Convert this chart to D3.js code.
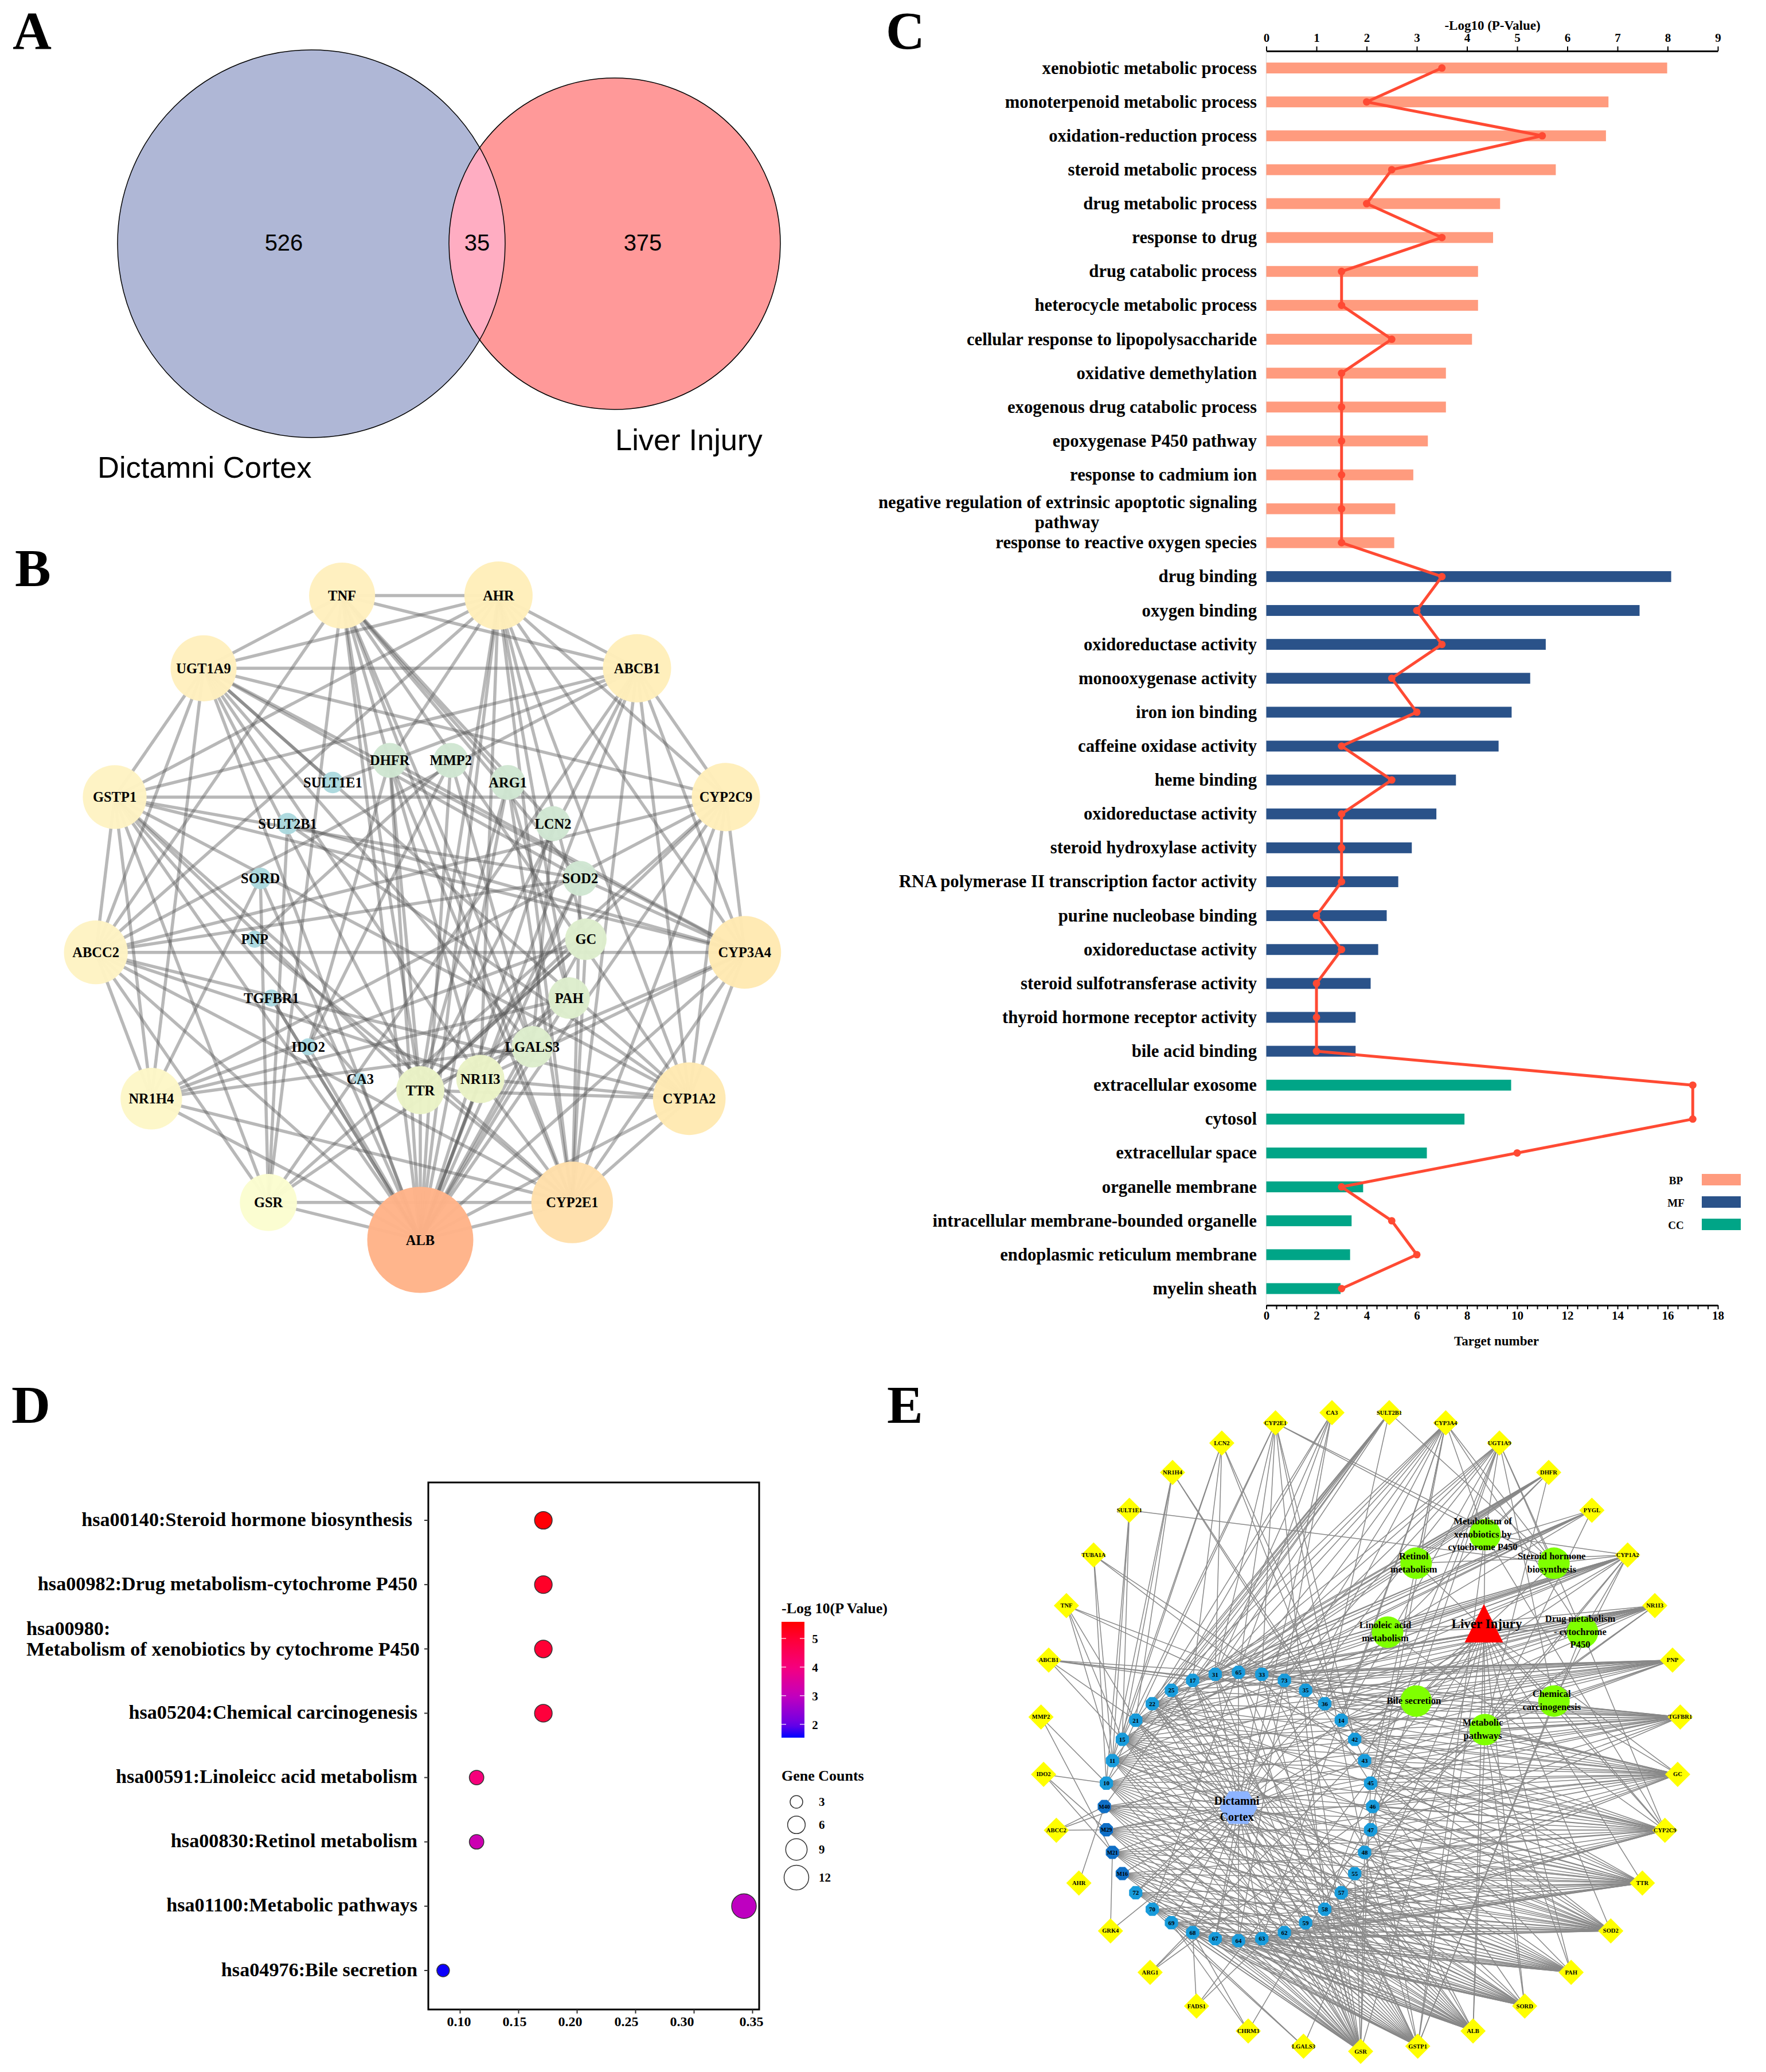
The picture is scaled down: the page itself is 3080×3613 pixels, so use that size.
<!DOCTYPE html>
<html><head><meta charset="utf-8">
<script src="https://cdn.jsdelivr.net/npm/d3@7/dist/d3.min.js"></script>
<style>
html,body{margin:0;padding:0;background:#fff}
svg{display:block}
text{font-family:"Liberation Serif","Times New Roman",serif;font-weight:700;fill:#000}
.sans{font-family:"Liberation Sans",Arial,sans-serif;font-weight:400}
</style></head><body>
<svg id="fig" width="3080" height="3613" viewBox="0 0 3080 3613"></svg>
<script>
// ---------- Panel A ----------
const vennSets = ["Dictamni Cortex", "Liver Injury"];
const vennCounts = [526, 35, 375];

// ---------- Panel B ----------
const ppiOuter = ["ALB","GSR","NR1H4","ABCC2","GSTP1","UGT1A9","TNF","AHR","ABCB1","CYP2C9","CYP3A4","CYP1A2","CYP2E1"];
const ppiOuterDegree = [22,11,12,12.5,12.5,13,13,13.5,13.5,13.5,14.5,14.5,16.5];
const ppiInner = ["TTR","CA3","IDO2","TGFBR1","PNP","SORD","SULT2B1","SULT1E1","DHFR","MMP2","ARG1","LCN2","SOD2","GC","PAH","LGALS3","NR1I3"];
const ppiInnerDegree = [9,1,2,2,2,3,3,3,6,6,6,6,6,7.5,7.5,7.5,9];
const ppiEdges = `TNF-AHR TNF-ABCB1 TNF-UGT1A9 TNF-ALB TNF-TTR TNF-GSR TNF-CYP2E1 TNF-NR1I3 TNF-LGALS3 TNF-SOD2 TNF-CYP1A2 TNF-ABCC2
AHR-UGT1A9 AHR-GSTP1 AHR-ABCB1 AHR-CYP2C9 AHR-CYP3A4 AHR-CYP1A2 AHR-CYP2E1 AHR-ALB AHR-TTR AHR-NR1I3 AHR-DHFR AHR-PAH AHR-GC AHR-ABCC2
UGT1A9-ABCB1 UGT1A9-CYP2C9 UGT1A9-GSTP1 UGT1A9-ABCC2 UGT1A9-NR1H4 UGT1A9-TTR UGT1A9-ALB UGT1A9-CYP3A4 UGT1A9-NR1I3 UGT1A9-LGALS3 UGT1A9-SOD2
ABCB1-GSTP1 ABCB1-ABCC2 ABCB1-CYP2C9 ABCB1-CYP3A4 ABCB1-CYP1A2 ABCB1-CYP2E1 ABCB1-ALB ABCB1-GSR ABCB1-SULT1E1
GSTP1-CYP2C9 GSTP1-ABCC2 GSTP1-NR1H4 GSTP1-GSR GSTP1-ALB GSTP1-CYP3A4 GSTP1-TTR GSTP1-CYP2E1 GSTP1-SOD2 GSTP1-CYP1A2 GSTP1-CA3
ABCC2-CYP3A4 ABCC2-CYP2C9 ABCC2-NR1H4 ABCC2-ALB ABCC2-CYP1A2 ABCC2-CYP2E1 ABCC2-SOD2 ABCC2-NR1I3 ABCC2-GSR
NR1H4-CYP2E1 NR1H4-ALB NR1H4-GC NR1H4-CYP2C9 NR1H4-SORD NR1H4-LGALS3
GSR-CYP2E1 GSR-ALB GSR-PAH GSR-CYP2C9 GSR-SORD GSR-SULT2B1
CYP2E1-ALB CYP1A2-ALB CYP1A2-CYP2E1 CYP3A4-CYP2E1 CYP3A4-CYP1A2 CYP3A4-CYP2C9 CYP2C9-CYP1A2 CYP2C9-CYP2E1 CYP2C9-ALB CYP2C9-TTR CYP3A4-ALB CYP3A4-TTR CYP3A4-NR1I3
CYP1A2-TTR CYP1A2-NR1I3 CYP1A2-SULT2B1 CYP2E1-DHFR CYP2E1-SOD2 CYP2E1-GC CYP2E1-ARG1 CYP3A4-SULT2B1 CYP3A4-DHFR CYP3A4-SOD2 ALB-TTR ALB-NR1I3 ALB-GC ALB-PAH ALB-LGALS3 ALB-ARG1 ALB-MMP2 ALB-IDO2 ALB-CA3 ALB-LCN2 ALB-DHFR ALB-TGFBR1 ALB-SORD ALB-SOD2
MMP2-IDO2 DHFR-TTR ARG1-TTR ARG1-PAH GC-TTR LCN2-LGALS3 SOD2-NR1I3 MMP2-LGALS3 TGFBR1-ALB PNP-CYP2E1`.split(/\s+/);
const ppiDarkEdges = `UGT1A9-CYP1A2 ABCB1-TTR NR1H4-PAH TNF-LCN2 TNF-ARG1 NR1I3-CYP2E1 DHFR-IDO2 MMP2-PNP GC-TTR PAH-NR1I3 ALB-NR1I3 UGT1A9-SULT1E1`.split(/\s+/);

// ---------- Panel C ----------
const goTerms = ["xenobiotic metabolic process","monoterpenoid metabolic process","oxidation-reduction process","steroid metabolic process","drug metabolic process","response to drug","drug catabolic process","heterocycle metabolic process","cellular response to lipopolysaccharide","oxidative demethylation","exogenous drug catabolic process","epoxygenase P450 pathway","response to cadmium ion","negative regulation of extrinsic apoptotic signaling|pathway","response to reactive oxygen species","drug binding","oxygen binding","oxidoreductase activity","monooxygenase activity","iron ion binding","caffeine oxidase activity","heme binding","oxidoreductase activity ","steroid hydroxylase activity","RNA polymerase II transcription factor activity","purine nucleobase binding","oxidoreductase activity  ","steroid sulfotransferase activity","thyroid hormone receptor activity","bile acid binding","extracellular exosome","cytosol","extracellular space","organelle membrane","intracellular membrane-bounded organelle","endoplasmic reticulum membrane","myelin sheath"];
const goGroup = ["BP","BP","BP","BP","BP","BP","BP","BP","BP","BP","BP","BP","BP","BP","BP","MF","MF","MF","MF","MF","MF","MF","MF","MF","MF","MF","MF","MF","MF","MF","CC","CC","CC","CC","CC","CC","CC"];
const goLogP = [7.99,6.82,6.77,5.77,4.66,4.52,4.22,4.22,4.10,3.58,3.58,3.22,2.93,2.57,2.55,8.07,7.44,5.57,5.26,4.89,4.63,3.78,3.39,2.90,2.63,2.40,2.23,2.08,1.78,1.78,4.88,3.95,3.20,1.93,1.70,1.67,1.48];
const goTargets = [7,4,11,5,4,7,3,3,5,3,3,3,3,3,3,7,6,7,5,6,3,5,3,3,3,2,3,2,2,2,17,17,10,3,5,6,3];
const goGroups = ["BP","MF","CC"];
const goTicksTop = [0,1,2,3,4,5,6,7,8,9];

// ---------- Panel D ----------
const keggTerms = ["hsa00140:Steroid hormone biosynthesis ","hsa00982:Drug metabolism-cytochrome P450","hsa00980:|Metabolism of xenobiotics by cytochrome P450","hsa05204:Chemical carcinogenesis","hsa00591:Linoleicc acid metabolism","hsa00830:Retinol metabolism","hsa01100:Metabolic pathways","hsa04976:Bile secretion"];
const keggRatio = [0.1714,0.1714,0.1714,0.1714,0.1143,0.1143,0.3429,0.0857];
const keggCount = [6,6,6,6,4,4,12,3];
const keggLogP = [5.55,5.15,5.0,4.9,4.05,3.2,2.95,1.6];
const keggRatioTicks = [0.10,0.15,0.20,0.25,0.30,0.35];
const keggRatioLabelShift = [-2,-7,-12,-16,-21,-2];
const keggColorTicks = [2,3,4,5];
const keggSizeTicks = [3,6,9,12];

// ---------- Panel E ----------
const netTargets = ["CA3","SULT2B1","CYP3A4","UGT1A9","DHFR","PYGL","CYP1A2","NR1I3","PNP","TGFBR1","GC","CYP2C9","TTR","SOD2","PAH","SORD","ALB","GSTP1","GSR","LGALS3","CHRM3","FADS1","ARG1","GRK4","AHR","ABCC2","IDO2","MMP2","ABCB1","TNF","TUBA1A","SULT1E1","NR1H4","LCN2","CYP2E1"];
const netCompounds = ["65","33","73","35","36","14","42","43","45","46","47","48","55","57","58","59","62","63","64","67","68","69","70","72","M16","M21","M29","M40","10","11","15","21","22","25","17","31"];
const netPathways = ["Metabolism of|xenobiotics by|cytochrome P450","Steroid hormone|biosynthesis","Drug metabolism|- cytochrome|P450","Chemical|carcinogenesis","Metabolic|pathways","Bile secretion","Linoleic acid|metabolism","Retinol|metabolism"];
const targetCompounds = {
 CA3:"22 25 31 67 64 70", SULT2B1:"21 22 25 17 31 36 11 10 M40", CYP3A4:"17 31 65 33 73 35 14 45 22 48 63", UGT1A9:"65 33 73 35 47 58 14 43 31",
 DHFR:"21 25 17 31 65 15 11 72", PYGL:"15 22 17 65 33 25 21", CYP1A2:"15 11 22 17 31 33 73 35 42 57 14 65 21",
 NR1I3:"10 15 21 22 25 17 31 33 73 35 36 46 14 42 65 11", PNP:"11 15 21 22 25 17 31 65 33 73 35 36 14 42 43 10",
 TGFBR1:"10 15 21 22 31 65 33 35 36 14 42 43 45 46 47 M40 11 25 48 M29", GC:"M40 M29 10 11 15 21 22 35 36 14 42 43 45 46 47 48 55 57 58 M21 33",
 CYP2C9:"M21 M29 M40 10 11 15 22 42 43 45 46 47 48 55 57 58 59 62 63 M16 21 14", TTR:"M16 72 70 M21 M29 M40 10 11 43 45 46 47 48 55 57 58 59 62 63 64 67 69 15 22 42 36",
 SOD2:"70 69 68 72 M16 M21 M29 M40 10 45 47 48 55 57 58 59 62 63 64 67 11 15 22 43 46 14", PAH:"68 67 64 63 62 59 70 69 72 M21 M29 48 55 57 58 M16 M40 10 15 43 47",
 SORD:"68 67 64 63 62 69 70 72 M16 M21 M40 10 11 15 45 48 59 57 58 M29 22", ALB:"68 67 64 63 62 59 69 70 72 M16 M21 M29 M40 10 11 15 21 22 47 55 58 25 33 17",
 GSTP1:"68 67 64 63 62 69 70 72 M16 M21 M29 M40 10 11 15 21 22 25 17 46 48 57 65 31", GSR:"68 67 64 63 62 59 69 70 72 M16 M21 M29 M40 10 11 15 21 22 25 17 31 65 33 73 35 48 55 58 45",
 LGALS3:"69 70", CHRM3:"69 68", FADS1:"68", ARG1:"68", GRK4:"M21", AHR:"M40", ABCC2:"M40 M29", IDO2:"M29 M21 10", MMP2:"10 M21",
 ABCB1:"17 21 15 33 35", TNF:"21 15 11 36 42", TUBA1A:"10 11 14 43", SULT1E1:"10 11 15", NR1H4:"11 15 21 36 45", LCN2:"17 31 15 36 43 11", CYP2E1:"10 65 33 42 48 58 15 31"
};
const pathwayTargets = [
 "UGT1A9 DHFR CYP1A2 CYP3A4 CYP2E1 CYP2C9 GSTP1","SULT1E1 CYP1A2 CYP3A4 SULT2B1 UGT1A9 CYP2E1","CYP1A2 CYP2C9 NR1I3 CYP3A4 UGT1A9 GSTP1","CYP1A2 CYP2C9 PNP GC UGT1A9 GSTP1",
 "ALB SORD PYGL DHFR CYP1A2 TGFBR1 GC PNP NR1I3 PAH ARG1 FADS1","ABCB1 ABCC2 PNP","CYP1A2 CYP2C9 NR1I3 PYGL","CYP1A2 PYGL DHFR CYP3A4"
];
const liverTargets = "TTR SOD2 PAH SORD ALB GSTP1 GSR CYP2C9 GC LGALS3 ARG1 FADS1 CHRM3 GRK4".split(" ");

// ---------- helpers ----------
const svg = d3.select("#fig");
svg.append("rect").attr("width",3080).attr("height",3613).attr("fill","#fff");
function ring(names, cx, cy, r, start){
  const ang = d3.scaleLinear().domain([0,names.length]).range([start,start+360]);
  const m = new Map();
  names.forEach((n,i)=>{const a=ang(i)*Math.PI/180; m.set(n,{x:cx+r*Math.sin(a),y:cy-r*Math.cos(a)});});
  return m;
}
const letters=[["A",22,85],["B",26,1022],["C",1545,85],["D",20,2481],["E",1547,2481]];
svg.selectAll(".ltr").data(letters).join("text").attr("class","ltr").attr("x",d=>d[1]).attr("y",d=>d[2]).attr("font-size",94).text(d=>d[0]);

// ---------- A: Venn ----------
{
  const g=svg.append("g");
  const cs=[{cx:543,cy:425,r:338,fill:"#AFB7D6"},{cx:1072,cy:425,r:289,fill:"#FF9999"}];
  const defs=svg.append("defs");
  defs.append("clipPath").attr("id","vclip").append("circle").attr("cx",cs[0].cx).attr("cy",cs[0].cy).attr("r",cs[0].r);
  g.selectAll("circle.s").data(cs).join("circle").attr("class","s").attr("cx",d=>d.cx).attr("cy",d=>d.cy).attr("r",d=>d.r).attr("fill",d=>d.fill);
  g.append("circle").attr("cx",cs[1].cx).attr("cy",cs[1].cy).attr("r",cs[1].r).attr("fill","#FFADC2").attr("clip-path","url(#vclip)");
  g.selectAll("circle.o").data(cs).join("circle").attr("class","o").attr("cx",d=>d.cx).attr("cy",d=>d.cy).attr("r",d=>d.r).attr("fill","none").attr("stroke","#000").attr("stroke-width",1.5);
  g.selectAll("text.n").data(vennCounts).join("text").attr("class","n sans").attr("x",(d,i)=>[495,832,1121][i]).attr("y",423).attr("text-anchor","middle").attr("dominant-baseline","central").attr("font-size",40).text(d=>d);
  g.selectAll("text.t").data(vennSets).join("text").attr("class","t sans").attr("x",(d,i)=>[170,1073][i]).attr("y",(d,i)=>[814,766][i]).attr("dominant-baseline","central").attr("font-size",52.5).text(d=>d);
}

// ---------- B: PPI ----------
{
  const g=svg.append("g");
  const outer=ring(ppiOuter,733,1592,570,180), inner=ring(ppiInner,733,1611,290,180);
  const pos=new Map([...outer,...inner]);
  const rScale=d3.scaleLinear().domain([1,22]).range([11,92.5]);
  const col=d3.scaleLinear().domain([1,3,6,9,11,13,15,17,22]).range(["#A9D8E2","#ABD9DE","#CFE6D2","#EAF3C6","#FBFDD0","#FFF0BE","#FFE6AE","#FFDCA8","#FFB388"]);
  const all=[...ppiEdges,...ppiDarkEdges].map(s=>s.split("-"));
  g.selectAll("line").data(all).join("line")
    .attr("x1",d=>pos.get(d[0]).x).attr("y1",d=>pos.get(d[0]).y).attr("x2",d=>pos.get(d[1]).x).attr("y2",d=>pos.get(d[1]).y)
    .attr("stroke","#555").attr("stroke-opacity",.42).attr("stroke-width",5.5);
  const nodes=[...ppiOuter.map((n,i)=>({n,d:ppiOuterDegree[i]})),...ppiInner.map((n,i)=>({n,d:ppiInnerDegree[i]}))];
  g.selectAll("circle").data(nodes).join("circle").attr("cx",d=>pos.get(d.n).x).attr("cy",d=>pos.get(d.n).y).attr("r",d=>rScale(d.d)).attr("fill",d=>col(d.d)).attr("fill-opacity",.97);
  g.selectAll("text").data(nodes).join("text").attr("x",d=>pos.get(d.n).x).attr("y",d=>pos.get(d.n).y).attr("text-anchor","middle").attr("dominant-baseline","central").attr("font-size",24.5).text(d=>d.n);
}

// ---------- C: GO ----------
{
  const g=svg.append("g");
  const xTop=d3.scaleLinear().domain([0,9]).range([2208.5,2996]);
  const xBot=d3.scaleLinear().domain([0,18]).range([2208.5,2996]);
  const y=d3.scaleBand().domain(goTerms).range([89,2276.5]).paddingInner(.68).paddingOuter(.34);
  const col=d3.scaleOrdinal().domain(goGroups).range(["#FF9B7E","#2A5289","#00A587"]);
  g.append("line").attr("x1",2208.5).attr("x2",2208.5).attr("y1",89).attr("y2",2276).attr("stroke","#ddd").attr("stroke-width",1.5);
  g.selectAll("rect.bar").data(goTerms).join("rect").attr("class","bar").attr("x",xTop(0)).attr("y",d=>y(d)).attr("height",y.bandwidth()).attr("width",(d,i)=>xTop(goLogP[i])-xTop(0)).attr("fill",(d,i)=>col(goGroup[i]));
  const line=d3.line().x((d,i)=>xBot(goTargets[i])).y(d=>y(d)+y.bandwidth()/2);
  g.append("path").attr("d",line(goTerms)).attr("fill","none").attr("stroke","#FF4A33").attr("stroke-width",5).attr("stroke-linejoin","round");
  g.selectAll("circle").data(goTerms).join("circle").attr("cx",(d,i)=>xBot(goTargets[i])).attr("cy",d=>y(d)+y.bandwidth()/2).attr("r",6.5).attr("fill","#FF4A33");
  goTerms.forEach((t,i)=>{
    const lines=t.trim().split("|"), cy=y(t)+y.bandwidth()/2;
    if(lines.length==1){
      g.append("text").attr("x",2192).attr("y",cy).attr("text-anchor","end").attr("dominant-baseline","central").attr("font-size",30.7).text(lines[0]);
    } else {
      g.append("text").attr("x",2192).attr("y",cy-11).attr("text-anchor","end").attr("dominant-baseline","central").attr("font-size",30.7).text(lines[0]);
      g.append("text").attr("x",1861).attr("y",cy+24).attr("text-anchor","middle").attr("dominant-baseline","central").attr("font-size",30.7).text(lines[1]);
    }
  });
  const top=g.append("g").attr("transform","translate(0,89)").call(d3.axisTop(xTop).tickValues(goTicksTop).tickSize(8).tickPadding(8).tickSizeOuter(0));
  const bot=g.append("g").attr("transform","translate(0,2276)").call(d3.axisBottom(xBot).tickValues(d3.range(0,46).map(i=>i*.4)).tickSize(7).tickSizeOuter(0).tickPadding(3).tickFormat((d,i)=>i%5==0?d3.format("d")(d):""));
  [top,bot].forEach(a=>{a.selectAll("path").attr("stroke","#000").attr("stroke-width",3);a.selectAll("line").attr("stroke","#000").attr("stroke-width",2);a.selectAll("text").attr("font-size",21).attr("font-family","Liberation Serif").attr("font-weight",700).attr("fill","#000");});
  g.append("text").attr("x",2603).attr("y",44).attr("text-anchor","middle").attr("dominant-baseline","central").attr("font-size",23).text("-Log10 (P-Value)");
  g.append("text").attr("x",2610).attr("y",2338).attr("text-anchor","middle").attr("dominant-baseline","central").attr("font-size",23).text("Target number");
  const ly=d3.scalePoint().domain(goGroups).range([2057,2135]);
  g.selectAll("rect.lg").data(goGroups).join("rect").attr("class","lg").attr("x",2968).attr("width",68).attr("y",d=>ly(d)-10).attr("height",20).attr("fill",d=>col(d));
  g.selectAll("text.lg").data(goGroups).join("text").attr("class","lg").attr("x",2923).attr("y",d=>ly(d)+1).attr("text-anchor","middle").attr("dominant-baseline","central").attr("font-size",19).text(d=>d);
}

// ---------- D: KEGG ----------
{
  const g=svg.append("g");
  const x=d3.scaleLinear().domain([0.10,0.35]).range([802,1312]);
  const y=d3.scalePoint().domain(keggTerms).range([2651,3436]);
  const col=d3.scaleLinear().domain([1.55,2,3,4,5,5.6]).range(["#0000FF","#6A00E6","#C200BE","#F5007F","#FF0035","#FF0000"]);
  const r=d3.scaleSqrt().domain([3,12]).range([11,21.5]);
  g.append("rect").attr("x",747).attr("y",2585).attr("width",577).attr("height",919).attr("fill","none").attr("stroke","#000").attr("stroke-width",3);
  const ax=g.append("g").attr("transform","translate(0,3504)").call(d3.axisBottom(x).tickValues(keggRatioTicks).tickSize(7).tickPadding(5).tickFormat(d3.format(".2f")));
  ax.select("path").remove();
  ax.selectAll("line").attr("stroke","#333").attr("stroke-width",2);
  ax.selectAll("text").attr("font-size",24).attr("font-family","Liberation Serif").attr("font-weight",700).attr("fill","#444").attr("dx",(d,i)=>keggRatioLabelShift[i]);
  g.selectAll("line.yt").data(keggTerms).join("line").attr("class","yt").attr("x1",740).attr("x2",747).attr("y1",d=>y(d)).attr("y2",d=>y(d)).attr("stroke","#333").attr("stroke-width",2);
  g.selectAll("circle.pt").data(keggTerms).join("circle").attr("class","pt").attr("cx",(d,i)=>x(keggRatio[i])).attr("cy",d=>y(d)).attr("r",(d,i)=>r(keggCount[i])).attr("fill",(d,i)=>col(keggLogP[i])).attr("stroke","#333").attr("stroke-width",1.5);
  keggTerms.forEach(t=>{
    const parts=t.split("|");
    if(parts.length==1){
      g.append("text").attr("x",t.endsWith(" ")?719:728).attr("y",y(t)-2).attr("text-anchor","end").attr("dominant-baseline","central").attr("font-size",34.2).text(t.trim());
    } else {
      g.append("text").attr("x",46).attr("y",y(t)-36).attr("dominant-baseline","central").attr("font-size",34.2).text(parts[0]);
      g.append("text").attr("x",46).attr("y",y(t)).attr("dominant-baseline","central").attr("font-size",34.2).text(parts[1]);
    }
  });
  g.append("text").attr("x",1363).attr("y",2804).attr("dominant-baseline","central").attr("font-size",26).text("-Log 10(P Value)");
  const cl=d3.scaleLinear().domain([5,2]).range([2857,3006.7]);
  const grad=svg.append("defs").append("linearGradient").attr("id","kgrad").attr("x1",0).attr("x2",0).attr("y1",0).attr("y2",1);
  d3.range(0,21).forEach(i=>grad.append("stop").attr("offset",i/20).attr("stop-color",col(5.6-(5.6-1.55)*i/20)));
  g.append("rect").attr("x",1363).attr("y",2828).attr("width",40).attr("height",202).attr("fill","url(#kgrad)");
  keggColorTicks.forEach(v=>{
    g.append("line").attr("x1",1363).attr("x2",1371).attr("y1",cl(v)).attr("y2",cl(v)).attr("stroke","#fff").attr("stroke-opacity",.8).attr("stroke-width",1.5);
    g.append("line").attr("x1",1395).attr("x2",1403).attr("y1",cl(v)).attr("y2",cl(v)).attr("stroke","#fff").attr("stroke-opacity",.8).attr("stroke-width",1.5);
    g.append("text").attr("x",1421.5).attr("y",cl(v)+1).attr("text-anchor","middle").attr("dominant-baseline","central").attr("font-size",21).text(v);
  });
  g.append("text").attr("x",1363).attr("y",3096).attr("dominant-baseline","central").attr("font-size",26).text("Gene Counts");
  const sy=d3.scaleOrdinal().domain(keggSizeTicks).range([3142,3182,3225,3274]);
  g.selectAll("circle.sz").data(keggSizeTicks).join("circle").attr("class","sz").attr("cx",1389).attr("cy",d=>sy(d)).attr("r",d=>r(d)).attr("fill","#fff").attr("stroke","#333").attr("stroke-width",1.5);
  g.selectAll("text.sz").data(keggSizeTicks).join("text").attr("class","sz").attr("x",1428).attr("y",d=>sy(d)).attr("dominant-baseline","central").attr("font-size",21).text(d=>d);
}

// ---------- E: network ----------
{
  const g=svg.append("g");
  const tPos=ring(netTargets,2373,3019,558,-360/70);
  const cPos=ring(netCompounds,2160,3150,234,0);
  const pPos=ring(netPathways,2590,2846,170,0);
  const hub={x:2160,y:3152}, liver={x:2588,y:2840};
  const edges=[];
  netCompounds.forEach(c=>edges.push([cPos.get(c),hub]));
  Object.entries(targetCompounds).forEach(([t,list])=>list.split(" ").forEach(c=>edges.push([tPos.get(t),cPos.get(c)])));
  pathwayTargets.forEach((list,i)=>{
    const p=pPos.get(netPathways[i]);
    edges.push([p,liver]);
    list.split(" ").forEach(t=>edges.push([p,tPos.get(t)]));
  });
  liverTargets.forEach(t=>edges.push([liver,tPos.get(t)]));
  g.selectAll("line").data(edges).join("line").attr("x1",d=>d[0].x).attr("y1",d=>d[0].y).attr("x2",d=>d[1].x).attr("y2",d=>d[1].y).attr("stroke","#888").attr("stroke-width",1.5);
  // targets
  const diamond=d3.symbol().type(d3.symbolSquare).size(2*22*22);
  g.selectAll("path.t").data(netTargets).join("path").attr("class","t").attr("d",diamond).attr("transform",d=>`translate(${tPos.get(d).x},${tPos.get(d).y}) rotate(45)`).attr("fill","#FFFF00");
  g.selectAll("text.t").data(netTargets).join("text").attr("class","t").attr("x",d=>tPos.get(d).x).attr("y",d=>tPos.get(d).y).attr("text-anchor","middle").attr("dominant-baseline","central").attr("font-size",10.5).text(d=>d);
  // compounds: octagons
  const polygon=(n,r,rot)=>d3.range(n).map(i=>{const a=rot+i*2*Math.PI/n;return [r*Math.cos(a),r*Math.sin(a)];}).join(" ");
  const isM=d=>d[0]=="M";
  g.selectAll("polygon.c").data(netCompounds).join("polygon").attr("class","c").attr("points",polygon(8,12.5,Math.PI/8)).attr("transform",d=>`translate(${cPos.get(d).x},${cPos.get(d).y})`).attr("fill",d=>isM(d)?"#0F6FC6":"#189BDB");
  g.selectAll("text.c").data(netCompounds).join("text").attr("class","c").attr("x",d=>cPos.get(d).x).attr("y",d=>cPos.get(d).y).attr("text-anchor","middle").attr("dominant-baseline","central").attr("font-size",d=>isM(d)?10:11).text(d=>d);
  // hub
  g.append("polygon").attr("points",polygon(6,33,0)).attr("transform",`translate(${hub.x},${hub.y})`).attr("fill","#8DB4FF");
  g.append("text").attr("x",2157).attr("y",3140).attr("text-anchor","middle").attr("dominant-baseline","central").attr("font-size",20).text("Dictamni");
  g.append("text").attr("x",2157).attr("y",3168).attr("text-anchor","middle").attr("dominant-baseline","central").attr("font-size",20).text("Cortex");
  // pathways
  g.selectAll("circle.p").data(netPathways).join("circle").attr("class","p").attr("cx",d=>pPos.get(d).x).attr("cy",d=>pPos.get(d).y).attr("r",27.5).attr("fill","#7FFF00");
  netPathways.forEach(d=>{
    const ls=d.split("|"), p=pPos.get(d);
    ls.forEach((s,i)=>g.append("text").attr("x",p.x-4).attr("y",p.y+(i-(ls.length-1)/2)*22.6-1).attr("text-anchor","middle").attr("dominant-baseline","central").attr("font-size",16.5).text(s));
  });
  // liver
  g.append("polygon").attr("points",[[0,-43],[33.5,24],[-33.5,24]].join(" ")).attr("transform",`translate(${liver.x},${liver.y})`).attr("fill","#FF0000");
  g.append("text").attr("x",2593).attr("y",2831).attr("text-anchor","middle").attr("dominant-baseline","central").attr("font-size",23).text("Liver Injury");
}
</script>
</body></html>
